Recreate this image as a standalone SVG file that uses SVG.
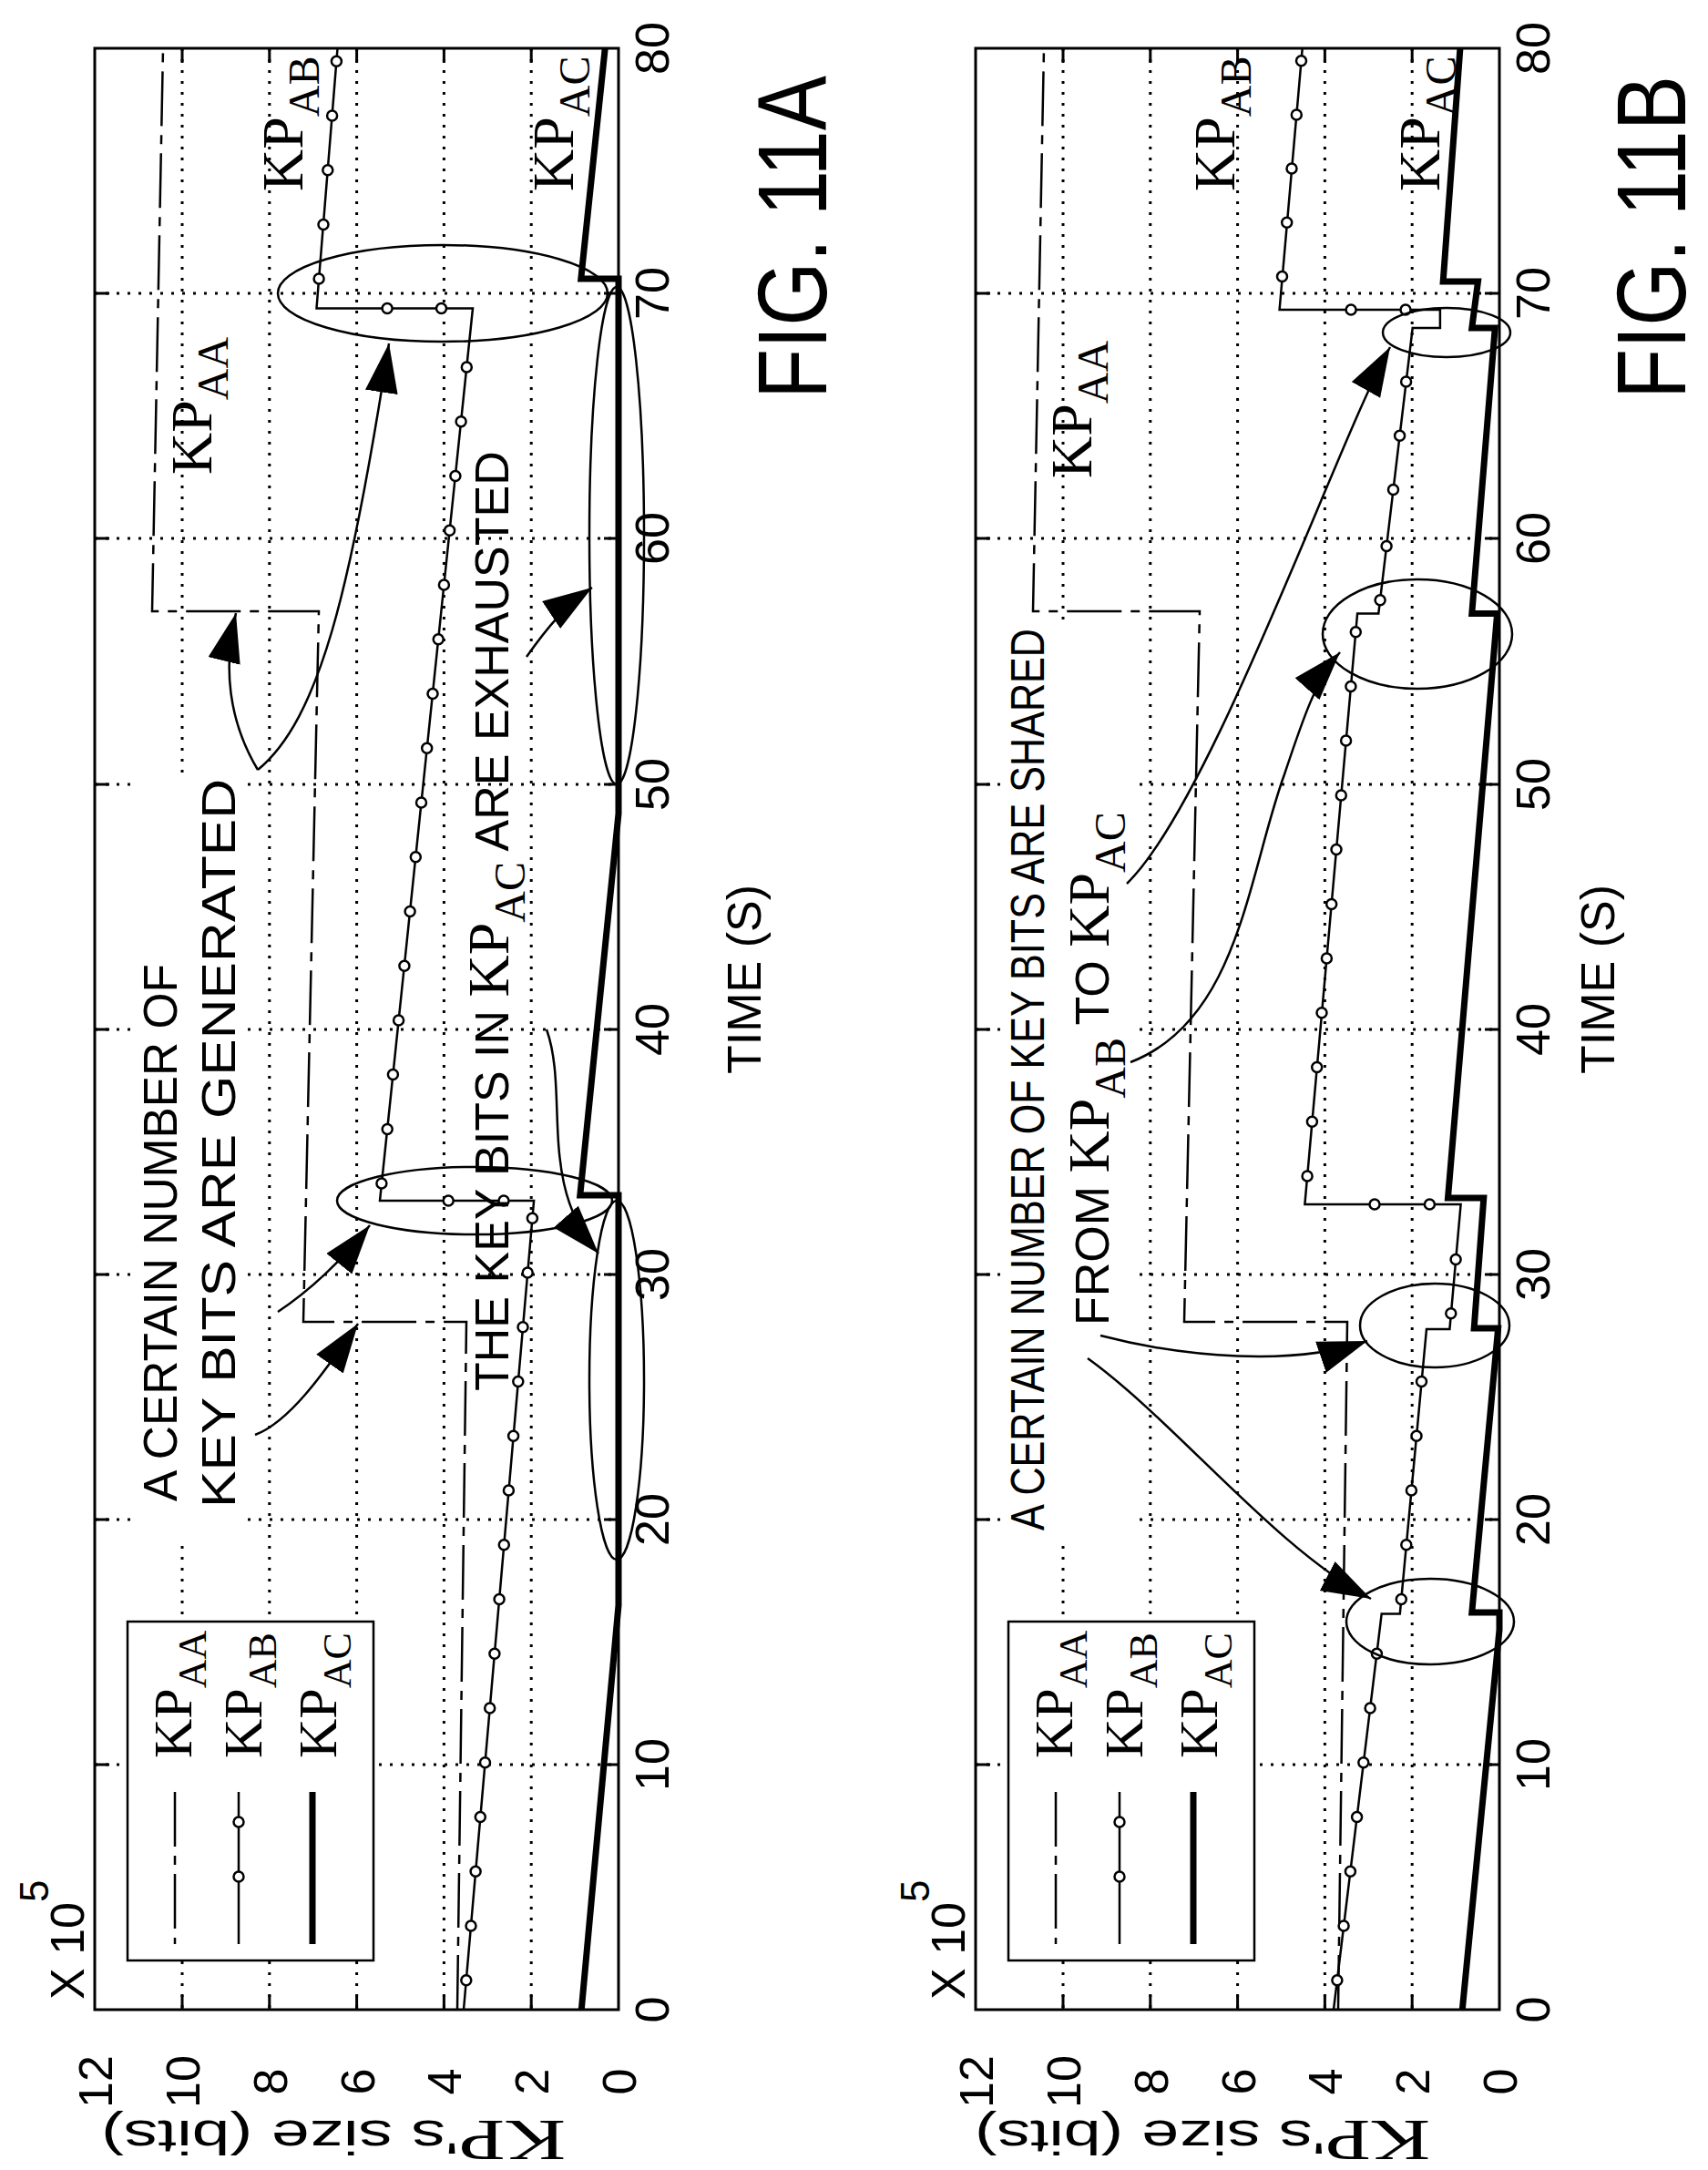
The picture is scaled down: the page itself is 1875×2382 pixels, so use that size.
<svg xmlns="http://www.w3.org/2000/svg" width="1875" height="2382" viewBox="0 0 1875 2382">
<style>
.frame{fill:none;stroke:#000;stroke-width:3}
.grid{fill:none;stroke:#000;stroke-width:3;stroke-dasharray:3 9}
.tick{stroke:#000;stroke-width:3}
.aa{fill:none;stroke:#000;stroke-width:2.5;stroke-dasharray:60 10 10 10}
.ab{fill:none;stroke:#000;stroke-width:2.5}
.ac{fill:none;stroke:#000;stroke-width:7}
.m{fill:#fff;stroke:#000;stroke-width:2.5}
.ell{fill:none;stroke:#000;stroke-width:2.5}
.arr{fill:none;stroke:#000;stroke-width:2.5;marker-end:url(#ah)}
.sans{font-family:"Liberation Sans",Arial,sans-serif;font-size:52px}
.num{font-family:"Liberation Sans",Arial,sans-serif;font-size:52px;text-anchor:middle}
.kp{font-family:"Liberation Serif","Times New Roman",serif;font-size:64px}
.sub{font-size:48px}
.lg{font-size:60px}
.lgs{font-size:44px}
.fig{font-family:"Liberation Sans",Arial,sans-serif;font-size:108px}
</style>
<defs>
<marker id="ah" markerUnits="userSpaceOnUse" markerWidth="56" markerHeight="38" refX="54" refY="18" orient="auto"><path d="M0,0 L54,18 L0,36 Z" fill="#000"/></marker>
</defs>
<rect width="1875" height="2382" fill="#fff"/>

<!-- ================= PLOT A ================= -->
<g id="plotA">
<g id="gridA">
<path class="grid" d="M583.2,53V2206M487.4,53V2206M391.6,53V2206M295.8,53V2206M200,53V2206"/>
<path class="grid" d="M104,1937H679M104,1668H679M104,1399H679M104,1130H679M104,861H679M104,591H679M104,322H679"/>
<path class="tick" d="M583.2,53v16M487.4,53v16M391.6,53v16M295.8,53v16M200,53v16M583.2,2206v-16M487.4,2206v-16M391.6,2206v-16M295.8,2206v-16M200,2206v-16M104,1937h16M104,1668h16M104,1399h16M104,1130h16M104,861h16M104,591h16M104,322h16M679,1937h-16M679,1668h-16M679,1399h-16M679,1130h-16M679,861h-16M679,591h-16M679,322h-16"/>
</g>
<rect x="148" y="850" width="118" height="840" fill="#fff"/>
<g id="curvesA">
<path class="aa" d="M502,2206 L512,1451 L333,1451 L350,671 L167,671 L179,53"/>
<path class="ab" d="M509,2206 L586.1,1318 H417 L519,338.5 H347.5 L370.5,53.2"/>
<path class="ac" d="M638.3,2206 L679,1762 V1312 H636.8 L679,893 V306 H637.8 L664.2,53.2"/>
<g id="markersA">
<circle class="m" cx="511.8" cy="2173.7" r="5.5"/><circle class="m" cx="517" cy="2114" r="5.5"/><circle class="m" cx="522.1" cy="2054.2" r="5.5"/><circle class="m" cx="527.3" cy="1994.5" r="5.5"/><circle class="m" cx="532.5" cy="1934.8" r="5.5"/><circle class="m" cx="537.7" cy="1875" r="5.5"/><circle class="m" cx="542.9" cy="1815.3" r="5.5"/><circle class="m" cx="548.1" cy="1755.5" r="5.5"/><circle class="m" cx="553.3" cy="1695.8" r="5.5"/><circle class="m" cx="558.4" cy="1636" r="5.5"/><circle class="m" cx="563.6" cy="1576.3" r="5.5"/><circle class="m" cx="568.8" cy="1516.6" r="5.5"/><circle class="m" cx="574" cy="1456.8" r="5.5"/><circle class="m" cx="579.2" cy="1397.1" r="5.5"/><circle class="m" cx="584.4" cy="1337.3" r="5.5"/>
<circle class="m" cx="553" cy="1318" r="5.5"/><circle class="m" cx="492.2" cy="1318" r="5.5"/>
<circle class="m" cx="418.9" cy="1299.1" r="5.5"/><circle class="m" cx="425.2" cy="1239.4" r="5.5"/><circle class="m" cx="431.4" cy="1179.6" r="5.5"/><circle class="m" cx="437.6" cy="1119.9" r="5.5"/><circle class="m" cx="443.9" cy="1060.2" r="5.5"/><circle class="m" cx="450.1" cy="1000.4" r="5.5"/><circle class="m" cx="456.3" cy="940.7" r="5.5"/><circle class="m" cx="462.5" cy="880.9" r="5.5"/><circle class="m" cx="468.7" cy="821.2" r="5.5"/><circle class="m" cx="475" cy="761.5" r="5.5"/><circle class="m" cx="481.2" cy="701.7" r="5.5"/><circle class="m" cx="487.4" cy="642" r="5.5"/><circle class="m" cx="493.6" cy="582.3" r="5.5"/><circle class="m" cx="499.9" cy="522.5" r="5.5"/><circle class="m" cx="506.1" cy="462.8" r="5.5"/><circle class="m" cx="512.3" cy="403" r="5.5"/>
<circle class="m" cx="484.5" cy="338.5" r="5.5"/><circle class="m" cx="425.1" cy="338.5" r="5.5"/>
<circle class="m" cx="350.1" cy="306.1" r="5.5"/><circle class="m" cx="355" cy="246.4" r="5.5"/><circle class="m" cx="359.8" cy="186.7" r="5.5"/><circle class="m" cx="364.6" cy="126.9" r="5.5"/><circle class="m" cx="369.4" cy="67.2" r="5.5"/>
</g>
</g>
<g id="ellipsesA">
<ellipse class="ell" cx="677" cy="1515" rx="30" ry="197"/>
<ellipse class="ell" cx="677" cy="588" rx="30" ry="273"/>
<ellipse class="ell" cx="521" cy="1318" rx="151" ry="37"/>
<ellipse class="ell" cx="486" cy="322" rx="181" ry="53"/>
</g>
<g id="connectorsA">
<path class="arr" d="M280,1575 C320,1560 360,1500 393,1453"/>
<path class="arr" d="M305,1440 C335,1420 370,1390 406,1345"/>
<path class="arr" d="M283,845 C250,790 245,730 259,673"/>
<path class="arr" d="M283,845 C350,790 385,650 427,377"/>
<path class="arr" d="M600,1130 C625,1200 590,1300 657,1376"/>
<path class="arr" d="M578,721 C600,690 620,665 650,645"/>
</g>
<g id="labelsA">
<text class="sans" transform="translate(194,1648) rotate(-90)" textLength="590" lengthAdjust="spacingAndGlyphs">A CERTAIN NUMBER OF</text>
<text class="sans" transform="translate(258,1655) rotate(-90)" textLength="800" lengthAdjust="spacingAndGlyphs">KEY BITS ARE GENERATED</text>
<text class="sans" transform="translate(558,1527) rotate(-90)">THE KEY BITS IN <tspan class="kp">KP</tspan><tspan class="kp sub" dy="18">AC</tspan><tspan dy="-18">  ARE EXHAUSTED</tspan></text>
<text class="kp" transform="translate(232,521) rotate(-90)">KP<tspan class="sub" dy="18">AA</tspan></text>
<text class="kp" transform="translate(332,210) rotate(-90)">KP<tspan class="sub" dy="18">AB</tspan></text>
<text class="kp" transform="translate(629,210) rotate(-90)">KP<tspan class="sub" dy="18">AC</tspan></text>
</g>
<g id="legendA">
<rect x="140" y="1780" width="270" height="372" fill="#fff" stroke="#000" stroke-width="2.5"/>
<path class="aa" d="M192,1967V2134"/>
<path class="ab" d="M262,1967V2134"/>
<circle class="m" cx="262" cy="2000" r="5.5"/><circle class="m" cx="262" cy="2060" r="5.5"/>
<path class="ac" d="M343,1967V2134"/>
<text class="kp lg" transform="translate(210,1930) rotate(-90)">KP<tspan class="lgs" dy="16">AA</tspan></text>
<text class="kp lg" transform="translate(287,1930) rotate(-90)">KP<tspan class="lgs" dy="16">AB</tspan></text>
<text class="kp lg" transform="translate(369,1930) rotate(-90)">KP<tspan class="lgs" dy="16">AC</tspan></text>
</g>
<rect class="frame" x="104" y="53" width="575" height="2153"/>
<g id="axesA">
<text class="num" transform="translate(698,2285) rotate(-90)">0</text>
<text class="num" transform="translate(602,2285) rotate(-90)">2</text>
<text class="num" transform="translate(506,2285) rotate(-90)">4</text>
<text class="num" transform="translate(411,2285) rotate(-90)">6</text>
<text class="num" transform="translate(315,2285) rotate(-90)">8</text>
<text class="num" transform="translate(219,2285) rotate(-90)">10</text>
<text class="num" transform="translate(123,2285) rotate(-90)">12</text>
<text class="num" transform="translate(734,2206) rotate(-90)">0</text>
<text class="num" transform="translate(734,1937) rotate(-90)">10</text>
<text class="num" transform="translate(734,1668) rotate(-90)">20</text>
<text class="num" transform="translate(734,1399) rotate(-90)">30</text>
<text class="num" transform="translate(734,1130) rotate(-90)">40</text>
<text class="num" transform="translate(734,861) rotate(-90)">50</text>
<text class="num" transform="translate(734,591) rotate(-90)">60</text>
<text class="num" transform="translate(734,322) rotate(-90)">70</text>
<text class="num" transform="translate(734,53) rotate(-90)">80</text>
<text class="sans" transform="translate(92,2195) rotate(-90)">X 10<tspan font-size="44" dy="-39">5</tspan></text>
<text class="sans" text-anchor="middle" transform="translate(366,2328) rotate(180)" font-size="50" textLength="510" lengthAdjust="spacingAndGlyphs"><tspan class="kp" font-size="54">KP</tspan>'s size (bits)</text>
<text class="num" transform="translate(835,1075) rotate(-90)">TIME (S)</text>
<text class="fig" transform="translate(907,438) rotate(-90)" textLength="355" lengthAdjust="spacingAndGlyphs">FIG. 11A</text>
</g>
</g>

<!-- ================= PLOT B ================= -->
<g id="plotB">
<g id="gridB">
<path class="grid" d="M1550.2,53V2206M1454.4,53V2206M1358.6,53V2206M1262.8,53V2206M1167,53V2206"/>
<path class="grid" d="M1071,1937H1646M1071,1668H1646M1071,1399H1646M1071,1130H1646M1071,861H1646M1071,591H1646M1071,322H1646"/>
<path class="tick" d="M1550.2,53v16M1454.4,53v16M1358.6,53v16M1262.8,53v16M1167,53v16M1550.2,2206v-16M1454.4,2206v-16M1358.6,2206v-16M1262.8,2206v-16M1167,2206v-16M1071,1937h16M1071,1668h16M1071,1399h16M1071,1130h16M1071,861h16M1071,591h16M1071,322h16M1646,1937h-16M1646,1668h-16M1646,1399h-16M1646,1130h-16M1646,861h-16M1646,591h-16M1646,322h-16"/>
</g>
<rect x="1100" y="680" width="142" height="1015" fill="#fff"/>
<g id="curvesB">
<path class="aa" d="M1469,2206 L1479,1451 L1300,1451 L1317,671 L1134,671 L1146,53"/>
<path class="ab" d="M1464,2206 L1516.7,1771.4 H1536.8 L1566,1458.9 H1591.4 L1603.6,1322 H1432.4 L1490.1,673.4 H1513.3 L1550.7,360 H1580.9 V340 H1404.6 L1429.7,53.2"/>
<path class="ac" d="M1605.3,2206 L1646,1789 V1770 H1615.8 L1644.6,1458 H1618.2 L1628.8,1315 H1589.5 L1643.6,673.4 H1615.8 L1641.2,360 H1615.8 L1622.5,309 H1584.2 L1602.9,53.2"/>
<g id="markersB">
<circle class="m" cx="1467.9" cy="2173.7" r="5.5"/><circle class="m" cx="1475.1" cy="2114" r="5.5"/><circle class="m" cx="1482.4" cy="2054.2" r="5.5"/><circle class="m" cx="1489.6" cy="1994.5" r="5.5"/><circle class="m" cx="1496.8" cy="1934.8" r="5.5"/><circle class="m" cx="1504.1" cy="1875" r="5.5"/><circle class="m" cx="1511.4" cy="1815.3" r="5.5"/>
<circle class="m" cx="1538.3" cy="1755.5" r="5.5"/><circle class="m" cx="1543.8" cy="1695.8" r="5.5"/><circle class="m" cx="1549.4" cy="1636" r="5.5"/><circle class="m" cx="1555" cy="1576.3" r="5.5"/><circle class="m" cx="1560.5" cy="1516.6" r="5.5"/>
<circle class="m" cx="1592.8" cy="1441.8" r="5.5"/><circle class="m" cx="1598.1" cy="1382.6" r="5.5"/>
<circle class="m" cx="1509" cy="1322" r="5.5"/><circle class="m" cx="1569.4" cy="1322" r="5.5"/>
<circle class="m" cx="1435.1" cy="1291.1" r="5.5"/><circle class="m" cx="1440.4" cy="1231.3" r="5.5"/><circle class="m" cx="1445.7" cy="1171.6" r="5.5"/><circle class="m" cx="1451" cy="1111.8" r="5.5"/><circle class="m" cx="1456.4" cy="1052.1" r="5.5"/><circle class="m" cx="1461.7" cy="992.4" r="5.5"/><circle class="m" cx="1467" cy="932.6" r="5.5"/><circle class="m" cx="1472.3" cy="872.9" r="5.5"/><circle class="m" cx="1477.6" cy="813.1" r="5.5"/><circle class="m" cx="1482.9" cy="753.4" r="5.5"/><circle class="m" cx="1488.3" cy="693.7" r="5.5"/>
<circle class="m" cx="1515.1" cy="658.7" r="5.5"/><circle class="m" cx="1522.1" cy="599.5" r="5.5"/><circle class="m" cx="1529.5" cy="537.6" r="5.5"/><circle class="m" cx="1536.6" cy="478.2" r="5.5"/><circle class="m" cx="1543.6" cy="419.1" r="5.5"/>
<circle class="m" cx="1483.1" cy="340" r="5.5"/><circle class="m" cx="1543" cy="340" r="5.5"/>
<circle class="m" cx="1407.5" cy="303.5" r="5.5"/><circle class="m" cx="1412.7" cy="244.3" r="5.5"/><circle class="m" cx="1418" cy="185.1" r="5.5"/><circle class="m" cx="1423.3" cy="125.9" r="5.5"/><circle class="m" cx="1428.5" cy="66.7" r="5.5"/>
</g>
</g>
<g id="ellipsesB">
<ellipse class="ell" cx="1570" cy="1780" rx="92" ry="47"/>
<ellipse class="ell" cx="1575" cy="1455" rx="82" ry="46"/>
<ellipse class="ell" cx="1556" cy="696" rx="104" ry="60"/>
<ellipse class="ell" cx="1588" cy="365" rx="70" ry="27"/>
</g>
<g id="connectorsB">
<path class="arr" d="M1194,1491 C1290,1560 1400,1700 1505,1755"/>
<path class="arr" d="M1208,1466 C1300,1490 1420,1500 1501,1472"/>
<path class="arr" d="M1241,1166 C1360,1120 1370,960 1410,850 C1430,790 1445,745 1471,716"/>
<path class="arr" d="M1237,970 C1330,880 1470,480 1526,381"/>
</g>
<g id="labelsB">
<text class="sans" font-size="50" transform="translate(1146,1680) rotate(-90)" textLength="990" lengthAdjust="spacingAndGlyphs">A CERTAIN NUMBER OF KEY BITS ARE SHARED</text>
<text class="sans" font-size="50" transform="translate(1217,1455) rotate(-90)">FROM <tspan class="kp">KP</tspan><tspan class="kp sub" dy="18">AB</tspan><tspan dy="-18">  TO </tspan><tspan class="kp">KP</tspan><tspan class="kp sub" dy="18">AC</tspan></text>
<text class="kp" transform="translate(1198,525) rotate(-90)">KP<tspan class="sub" dy="18">AA</tspan></text>
<text class="kp" transform="translate(1355,210) rotate(-90)">KP<tspan class="sub" dy="18">AB</tspan></text>
<text class="kp" transform="translate(1580,210) rotate(-90)">KP<tspan class="sub" dy="18">AC</tspan></text>
</g>
<g id="legendB">
<rect x="1107" y="1780" width="270" height="372" fill="#fff" stroke="#000" stroke-width="2.5"/>
<path class="aa" d="M1159,1967V2134"/>
<path class="ab" d="M1229,1967V2134"/>
<circle class="m" cx="1229" cy="2000" r="5.5"/><circle class="m" cx="1229" cy="2060" r="5.5"/>
<path class="ac" d="M1310,1967V2134"/>
<text class="kp lg" transform="translate(1177,1930) rotate(-90)">KP<tspan class="lgs" dy="16">AA</tspan></text>
<text class="kp lg" transform="translate(1254,1930) rotate(-90)">KP<tspan class="lgs" dy="16">AB</tspan></text>
<text class="kp lg" transform="translate(1336,1930) rotate(-90)">KP<tspan class="lgs" dy="16">AC</tspan></text>
</g>
<rect class="frame" x="1071" y="53" width="575" height="2153"/>
<g id="axesB">
<text class="num" transform="translate(1665,2285) rotate(-90)">0</text>
<text class="num" transform="translate(1569,2285) rotate(-90)">2</text>
<text class="num" transform="translate(1473,2285) rotate(-90)">4</text>
<text class="num" transform="translate(1378,2285) rotate(-90)">6</text>
<text class="num" transform="translate(1282,2285) rotate(-90)">8</text>
<text class="num" transform="translate(1186,2285) rotate(-90)">10</text>
<text class="num" transform="translate(1090,2285) rotate(-90)">12</text>
<text class="num" transform="translate(1701,2206) rotate(-90)">0</text>
<text class="num" transform="translate(1701,1937) rotate(-90)">10</text>
<text class="num" transform="translate(1701,1668) rotate(-90)">20</text>
<text class="num" transform="translate(1701,1399) rotate(-90)">30</text>
<text class="num" transform="translate(1701,1130) rotate(-90)">40</text>
<text class="num" transform="translate(1701,861) rotate(-90)">50</text>
<text class="num" transform="translate(1701,591) rotate(-90)">60</text>
<text class="num" transform="translate(1701,322) rotate(-90)">70</text>
<text class="num" transform="translate(1701,53) rotate(-90)">80</text>
<text class="sans" transform="translate(1059,2195) rotate(-90)">X 10<tspan font-size="44" dy="-39">5</tspan></text>
<text class="sans" text-anchor="middle" transform="translate(1320,2328) rotate(180)" font-size="50" textLength="500" lengthAdjust="spacingAndGlyphs"><tspan class="kp" font-size="54">KP</tspan>'s size (bits)</text>
<text class="num" transform="translate(1772,1075) rotate(-90)">TIME (S)</text>
<text class="fig" transform="translate(1850,438) rotate(-90)" textLength="355" lengthAdjust="spacingAndGlyphs">FIG. 11B</text>
</g>
</g>
</svg>
